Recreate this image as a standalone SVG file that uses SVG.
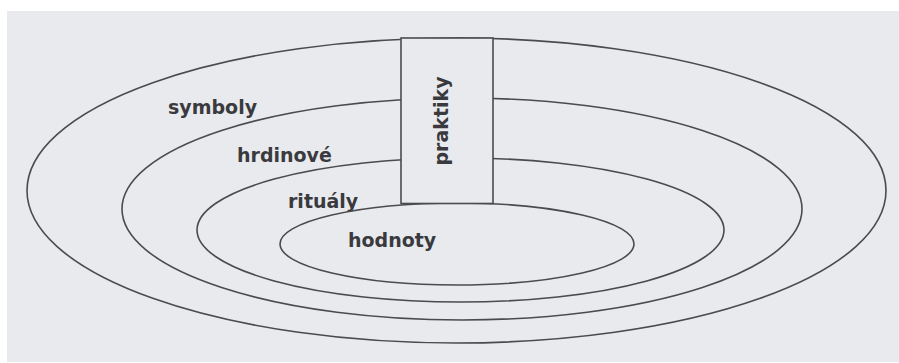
<svg xmlns="http://www.w3.org/2000/svg" width="899" height="363" viewBox="0 0 899 363">
<style>
.ring{fill:none;stroke:#4a4a4f;stroke-width:1.6}
.lbl{font-family:"DejaVu Sans",Verdana,sans-serif;font-weight:bold;font-size:19px;fill:#3a3a3e}
</style>
<rect x="0" y="0" width="899" height="363" fill="#ffffff"/>
<rect x="7" y="11" width="892" height="351" fill="#e9eaee"/>
<g id="symboly">
<ellipse class="ring" cx="456.5" cy="190.5" rx="429.5" ry="152.5"/>
<text class="lbl" x="168" y="114">symboly</text>
</g>
<g id="hrdinove">
<ellipse class="ring" cx="462" cy="209" rx="340" ry="111"/>
<text class="lbl" x="237" y="162">hrdinové</text>
</g>
<g id="ritualy">
<ellipse class="ring" cx="460.5" cy="230" rx="263.5" ry="72"/>
<text class="lbl" x="288" y="208">rituály</text>
</g>
<g id="hodnoty">
<ellipse class="ring" cx="457" cy="244" rx="177" ry="41"/>
<text class="lbl" x="348" y="247">hodnoty</text>
</g>
<g id="praktiky">
<rect x="401" y="38" width="92" height="165.5" fill="#e9eaee" stroke="#4a4a4f" stroke-width="1.6"/>
<text class="lbl" text-anchor="middle" transform="translate(448,121) rotate(-90)">praktiky</text>
</g>
</svg>
